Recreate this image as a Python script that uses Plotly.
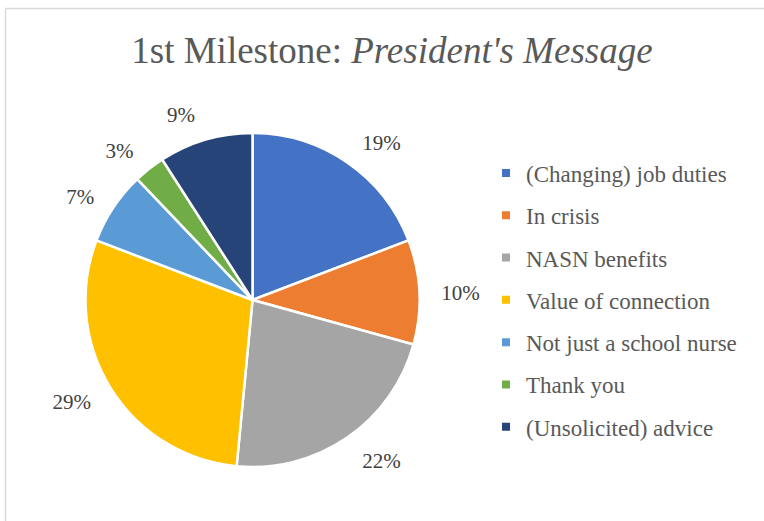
import plotly.graph_objects as go

# Share of responses by theme (percent)
categories = [
    "(Changing) job duties",
    "In crisis",
    "NASN benefits",
    "Value of connection",
    "Not just a school nurse",
    "Thank you",
    "(Unsolicited) advice",
]
shares = [19, 10, 22, 29, 7, 3, 9]
colors = ["#4472C4", "#ED7D31", "#A5A5A5", "#FFC000", "#5B9BD5", "#70AD47", "#264478"]

W, H = 764, 521
SERIF = "Liberation Serif, Times New Roman, serif"

# pie centre and radius in pixels
CX, CY, R = 252.5, 300, 167
LABEL_R = R + 16  # outside labels sit on a slightly larger ring


def domain(radius, cy=CY):
    return dict(x=[(CX - radius) / W, (CX + radius) / W],
                y=[1 - (cy + radius) / H, 1 - (cy - radius) / H])


pct_text = [f"{v}%" for v in shares]

fig = go.Figure()

# visible slices
fig.add_trace(go.Pie(
    labels=categories,
    values=shares,
    textinfo="none",
    marker=dict(colors=colors, line=dict(color="white", width=2.5)),
    sort=False, direction="clockwise", rotation=0,
    showlegend=False,
    domain=domain(R),
))

# transparent ring carrying the percentage labels
fig.add_trace(go.Pie(
    labels=categories,
    values=shares,
    text=pct_text,
    texttemplate="%{text}",
    textinfo="text",
    textposition="outside",
    outsidetextfont=dict(family=SERIF, size=21, color="#404040"),
    marker=dict(colors=["rgba(0,0,0,0)"] * len(shares), line=dict(width=0)),
    sort=False, direction="clockwise", rotation=0,
    showlegend=False, hoverinfo="skip",
    domain=domain(LABEL_R, CY + 2),
))

# Legend entries, one group per theme so the rows can be spaced out
for name, col in zip(categories, colors):
    fig.add_trace(go.Scatter(
        x=[None], y=[None], mode="markers", name=name, legendgroup=name,
        marker=dict(symbol="square", size=8, color=col),
    ))

fig.update_layout(
    width=W, height=H,
    margin=dict(l=0, r=0, t=0, b=0),
    paper_bgcolor="white", plot_bgcolor="white",
    xaxis=dict(visible=False), yaxis=dict(visible=False),
    title=dict(
        text="1st Milestone: <i>President's Message</i>",
        font=dict(family=SERIF, size=37, color="#595959"),
        x=392 / W, xanchor="center", y=1 - 50 / H, yanchor="middle",
    ),
    legend=dict(
        font=dict(family=SERIF, size=23, color="#595959"),
        x=486 / W, xanchor="left", y=1 - 151.5 / H, yanchor="top",
        tracegroupgap=9.4, itemwidth=30, bgcolor="rgba(0,0,0,0)",
        traceorder="grouped",
    ),
    shapes=[
        dict(type="line", xref="paper", yref="paper",
             x0=5.5 / W, x1=1.05, y0=1 - 8.5 / H, y1=1 - 8.5 / H,
             line=dict(color="#D9D9D9", width=1.5)),
        dict(type="line", xref="paper", yref="paper",
             x0=5.5 / W, x1=5.5 / W, y0=1 - 8.5 / H, y1=-0.05,
             line=dict(color="#D9D9D9", width=1.5)),
    ],
)

fig.write_html("out.html")
